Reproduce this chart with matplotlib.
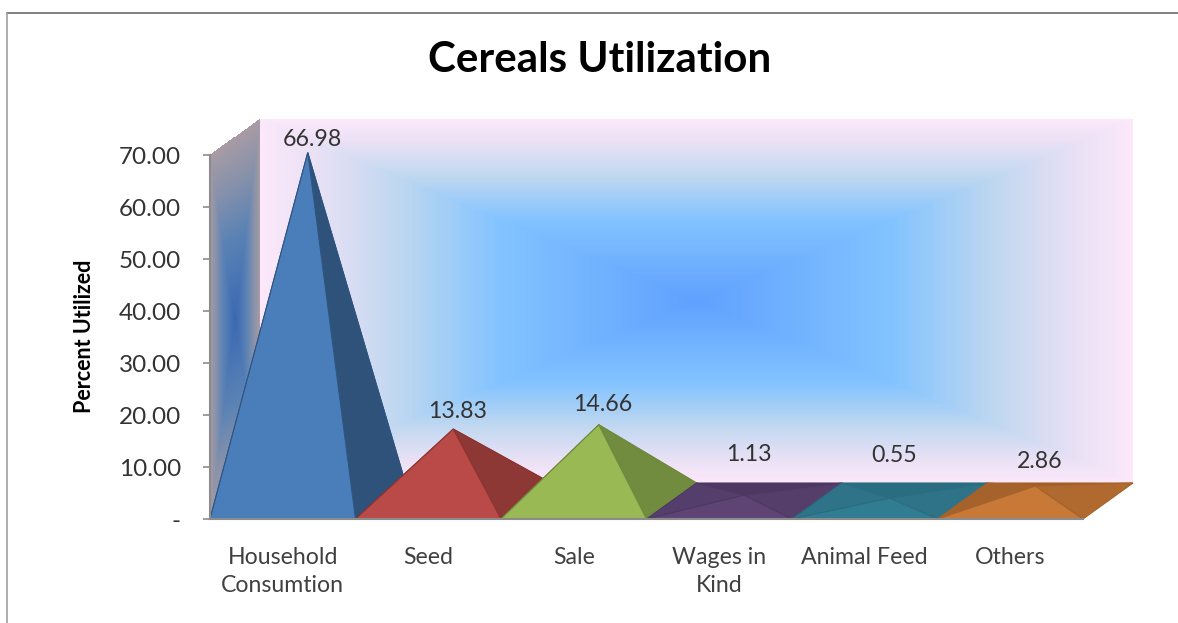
import matplotlib
matplotlib.use("Agg")
import matplotlib.pyplot as plt
import numpy as np
from matplotlib.lines import Line2D
from matplotlib.patches import Polygon

plt.rcParams['font.family'] = ['Lato', 'DejaVu Sans']

# data
categories = ['Household\nConsumtion', 'Seed', 'Sale', 'Wages in\nKind', 'Animal Feed', 'Others']
utilized = [66.98, 13.83, 14.66, 1.13, 0.55, 2.86]
value_labels = ['66.98', '13.83', '14.66', '1.13', '0.55', '2.86']
y_ticks = [0, 10, 20, 30, 40, 50, 60, 70]
y_tick_labels = ['-', '10.00', '20.00', '30.00', '40.00', '50.00', '60.00', '70.00']

# face colours, one per pyramid
front_colors = ['#4a7ebb', '#b94a47', '#98b954', '#5d4475', '#307d91', '#c87837']
right_colors = ['#2e527a', '#8e3836', '#718c3e', '#563e6b', '#2e7387', '#b06a30']
left_colors = ['#2e527a', '#8e3836', '#718c3e', '#543e6c', '#2e7387', '#a5622a']
back_colors = ['#2e527a', '#8e3836', '#718c3e', '#4e3862', '#2a6c80', '#a05f28']
edge_colors = ['#2f5580', '#8a3533', '#6f8a3c', '#4e3862', '#2a6c80', '#a5622a']
# how far each value label sits above its apex, in points
label_lift = [9.5, 12.5, 14.5, 29.5, 30.5, 17.5]

# depth of the 3d box, in data units
depth_x = 50 / 145.5
depth_y = 36 / 5.2

W, H = 1178, 623
fig = plt.figure(figsize=(W / 100, H / 100), dpi=100, facecolor='white')
ax = fig.add_axes([210 / W, (H - 519) / H, 873 / W, 364 / H])
ax.set_xlim(0, 6)
ax.set_ylim(0, 70)
ax.patch.set_visible(False)


def ramp(t, stops, cols):
    return np.stack([np.interp(t, stops, np.array(cols)[:, k]) / 255 for k in range(3)], axis=-1)


# back wall, rectangular gradient
u = np.linspace(-1, 1, 300)
v = np.linspace(-1, 1, 200)
uu, vv = np.meshgrid((u[:-1] + u[1:]) / 2, (v[:-1] + v[1:]) / 2)
t = np.maximum(np.abs(uu), np.abs(vv))
wall = ramp(t, [0, .25, .45, .68, .88, 1],
            [(95, 160, 255), (115, 180, 255), (130, 195, 255), (190, 215, 240), (235, 225, 245), (252, 232, 250)])
bx, by = np.meshgrid(depth_x + (u + 1) * 3, depth_y + (v + 1) * 35)
ax.pcolormesh(bx, by, wall, antialiased=False, clip_on=False, zorder=1)

# left wall, same gradient on a skewed grid
u = np.linspace(-1, 1, 50)
v = np.linspace(-1, 1, 200)
uu, vv = np.meshgrid((u[:-1] + u[1:]) / 2, (v[:-1] + v[1:]) / 2)
t = np.maximum(np.abs(uu), np.abs(vv))
side = ramp(t, [0, .45, .75, 1], [(58, 105, 180), (90, 130, 180), (135, 145, 170), (168, 155, 165)])
sx_, sy_ = np.meshgrid((u + 1) / 2 * depth_x, (v + 1) * 35)
ax.pcolormesh(sx_, sy_ + sx_ / depth_x * depth_y, side, antialiased=False, clip_on=False, zorder=1)

# pyramids, drawn left to right so each one hides the one before
for i, val in enumerate(utilized):
    fl = (i, 0)
    fr = (i + 1, 0)
    bl = (i + depth_x, depth_y)
    br = (i + 1 + depth_x, depth_y)
    apex = (i + .5 + depth_x / 2, val + depth_y / 2)
    z = 3 + i
    faces = [((bl, br, apex), back_colors[i]), ((fl, bl, apex), left_colors[i]),
             ((fr, br, apex), right_colors[i]), ((fl, fr, apex), front_colors[i])]
    for pts, col in faces:
        ax.add_patch(Polygon(pts, closed=True, facecolor=col, edgecolor=edge_colors[i],
                             linewidth=.8, clip_on=False, zorder=z))
    ax.annotate(value_labels[i], apex, xytext=(3, label_lift[i]), textcoords='offset points',
                ha='center', va='center', fontsize=16.7, color='#333333', zorder=20,
                annotation_clip=False)

for name in ['top', 'right']:
    ax.spines[name].set_visible(False)
for name in ['left', 'bottom']:
    ax.spines[name].set_color('#8c8c8c')
    ax.spines[name].set_linewidth(1.5)
    ax.spines[name].set_zorder(15)

ax.set_yticks(y_ticks)
ax.set_yticklabels(y_tick_labels)
ax.tick_params(axis='y', length=5, width=1.2, color='#8c8c8c', pad=16, labelsize=17.5, labelcolor='#333333')
ax.set_xticks(np.arange(len(categories)) + .5)
ax.set_xticklabels(categories, linespacing=1.38)
ax.tick_params(axis='x', length=0, pad=20.5, labelsize=16.7, labelcolor='#404040')

fig.text(84 / W, 1 - 336 / H, 'Percent Utilized', rotation=90, ha='center', va='center',
         fontsize=15.5, fontweight='bold', color='black')
fig.text(600 / W, 1 - 60 / H, 'Cereals Utilization', ha='center', va='center',
         fontsize=30.3, fontweight='bold', color='black')

# outer chart frame, cut off by the screenshot on the right and bottom
fig.add_artist(Line2D([7 / W, 1], [1 - 13 / H, 1 - 13 / H], color='#808080', linewidth=1.4))
fig.add_artist(Line2D([7 / W, 7 / W], [0, 1 - 13 / H], color='#a0a0a0', linewidth=1.2))

fig.savefig('out.png', dpi=100)
